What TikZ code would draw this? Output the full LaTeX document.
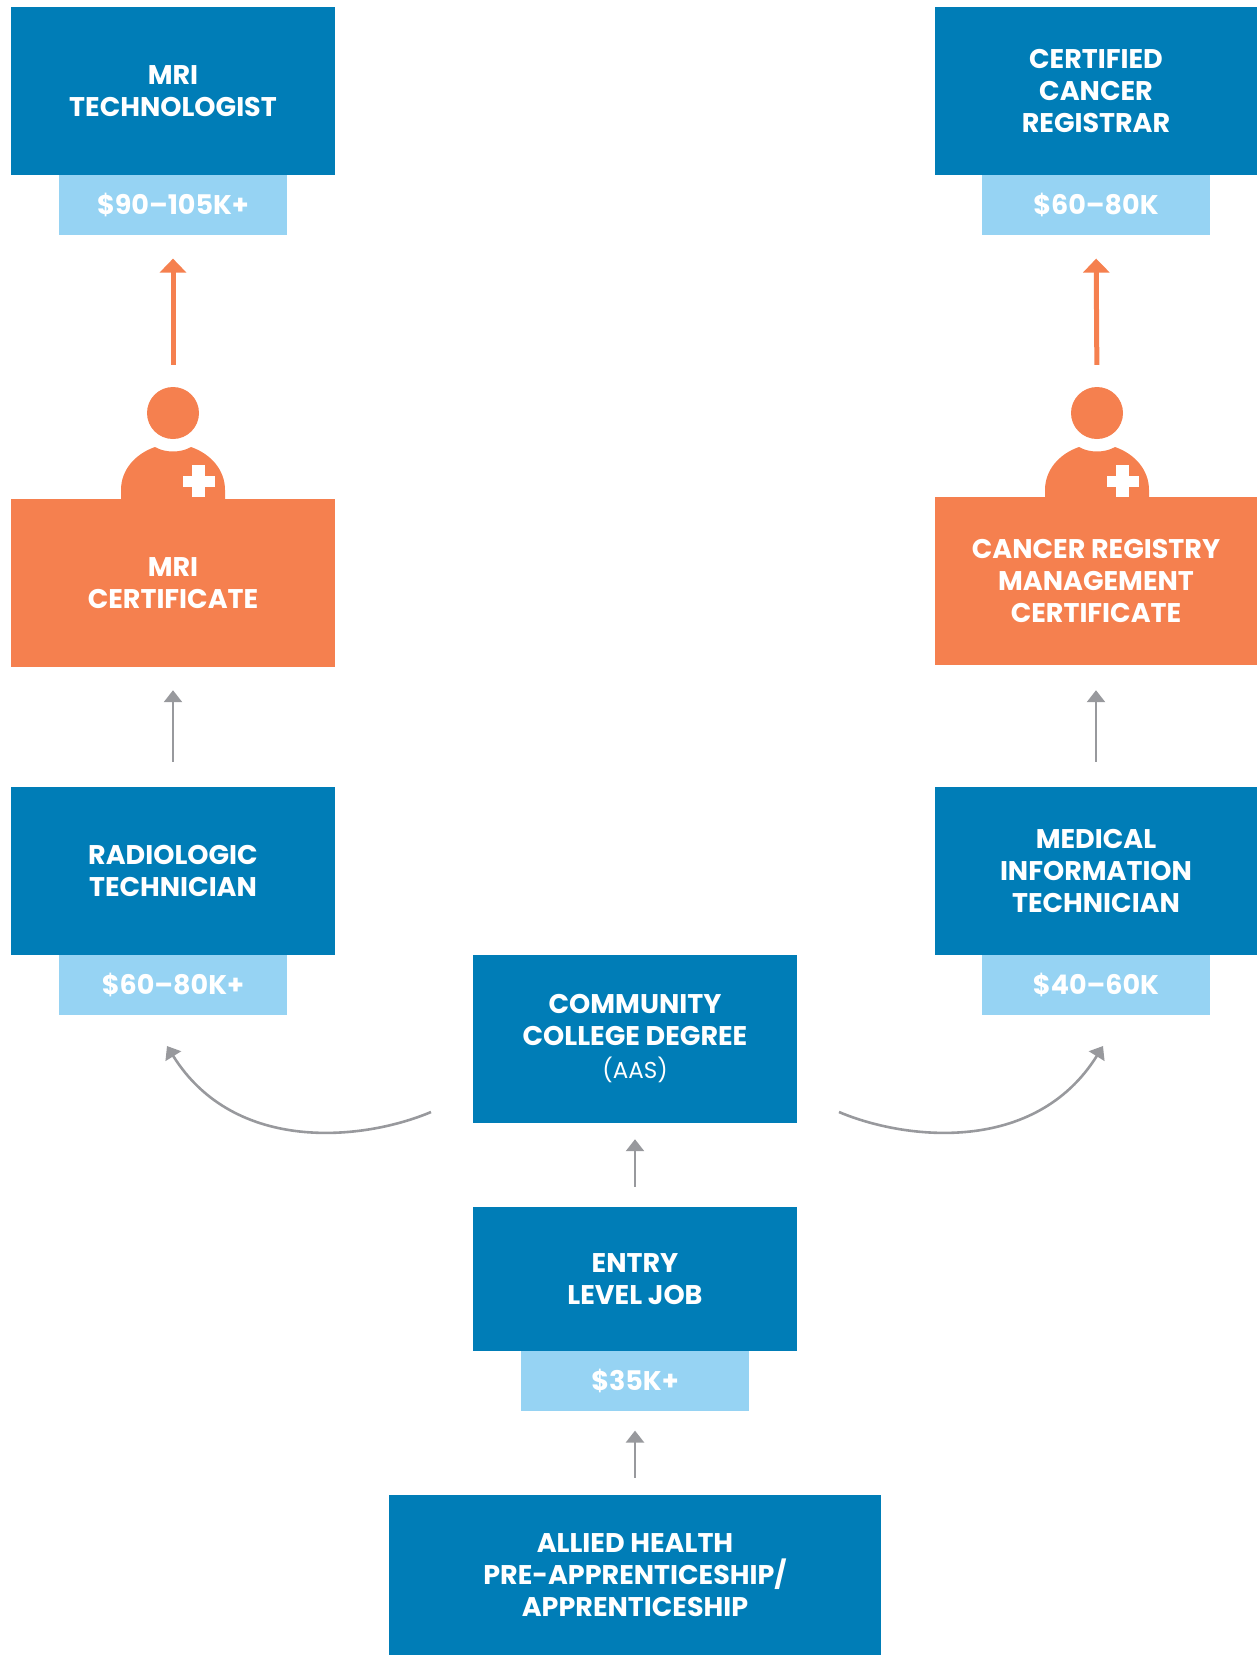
\documentclass[tikz,border=0pt]{standalone}
\usepackage{fontspec}
\setmainfont{Poppins}
\usetikzlibrary{positioning,arrows.meta}
\definecolor{boxblue}{HTML}{007DB7}
\definecolor{paleblue}{HTML}{96D3F3}
\definecolor{certorange}{HTML}{F5804F}
\definecolor{arrowgrey}{HTML}{98999D}
\tikzset{every node/.style={align=center, text=white, inner sep=0pt, font=\fontsize{27}{32}\selectfont\bfseries},
    jobbox/.style={fill=boxblue, minimum width=324pt, minimum height=168pt},
    certbox/.style={fill=certorange, minimum width=324pt, minimum height=168pt},
    paybox/.style={fill=paleblue, minimum width=228pt, minimum height=60pt},
    headdot/.style={circle, fill=certorange, minimum size=52pt},
    greyarrow/.style={draw=arrowgrey, line width=2.6pt, -{Triangle[width=18pt,length=12pt]}},
    orangearrow/.style={draw=certorange, line width=5pt, -{Triangle[width=26pt,length=14pt]}}}

\begin{document}
\begin{tikzpicture}[x=1pt,y=-1pt]
            \useasboundingbox (0,0) rectangle (1257,1655);
            \foreach \xc in {173,1097} {
                \fill[certorange] (\xc-52,505) -- (\xc-52,490) .. controls (\xc-52,470) and (\xc-38,454) .. (\xc-18,447) .. controls (\xc-8,453) and (\xc+8,453) .. (\xc+18,447) .. controls (\xc+38,454) and (\xc+52,470) .. (\xc+52,490) -- (\xc+52,505) -- cycle;
                \fill[white] (\xc+9.5,476) rectangle (\xc+41.5,487);
                \fill[white] (\xc+19,465) rectangle (\xc+32,497);
            }
            \node [jobbox] (mritech) at (173,91) {MRI\\TECHNOLOGIST};
            \node [paybox] (mripay) [below=0pt of mritech] {\$90–105K+};
            \node [jobbox, minimum width=322pt] (registrar) at (1096,91) {CERTIFIED\\CANCER\\REGISTRAR};
            \node [paybox] (registrarpay) [below=0pt of registrar] {\$60–80K};
            \node [headdot] (mrihead) at (173,413) {};
            \node [headdot] (registryhead) at (1097,413) {};
            \node [certbox] (mricert) at (173,583) {MRI\\CERTIFICATE};
            \node [certbox, minimum width=322pt] (registrycert) at (1096,581) {CANCER REGISTRY\\MANAGEMENT\\CERTIFICATE};
            \node [jobbox] (radtech) at (173,871) {RADIOLOGIC\\TECHNICIAN};
            \node [paybox] (radpay) [below=0pt of radtech] {\$60–80K+};
            \node [jobbox, minimum width=322pt] (medtech) at (1096,871) {MEDICAL\\INFORMATION\\TECHNICIAN};
            \node [paybox] (medpay) [below=0pt of medtech] {\$40–60K};
            \node [jobbox] (degree) at (635,1039) {COMMUNITY\\COLLEGE DEGREE\\[1pt]{\fontsize{23}{30}\selectfont\mdseries (AAS)}};
            \node [jobbox, minimum height=144pt] (entry) at (635,1279) {ENTRY\\LEVEL JOB};
            \node [paybox] (entrypay) [below=0pt of entry] {\$35K+};
            \node [jobbox, minimum width=492pt, minimum height=160pt] (allied) at (635,1575) {ALLIED HEALTH\\PRE-APPRENTICESHIP/\\APPRENTICESHIP};
            \coordinate (leftstart) at (431,1112);
            \coordinate (leftend) at (167,1046);
            \coordinate (rightstart) at (839,1112);
            \coordinate (rightend) at (1103,1046);
            \path[orangearrow] (mrihead.north) [shorten <=22pt, shorten >=23pt] -- (mripay.south);
            \path[orangearrow] (registryhead.north) [shorten <=22pt, shorten >=23pt] -- (registrarpay.south);
            \path[greyarrow] (radtech.north) [shorten <=25pt, shorten >=23pt] -- (mricert.south);
            \path[greyarrow] (medtech.north) [shorten <=25pt, shorten >=25pt] -- (registrycert.south);
            \path[greyarrow] (entry.north) [shorten <=20pt, shorten >=16pt] -- (degree.south);
            \path[greyarrow] (allied.north) [shorten <=17pt, shorten >=19pt] -- (entrypay.south);
            \path[greyarrow] (leftstart) .. controls (365,1140) and (235,1155) .. (leftend);
            \path[greyarrow] (rightstart) .. controls (905,1140) and (1035,1155) .. (rightend);
        \end{tikzpicture}
\end{document}
